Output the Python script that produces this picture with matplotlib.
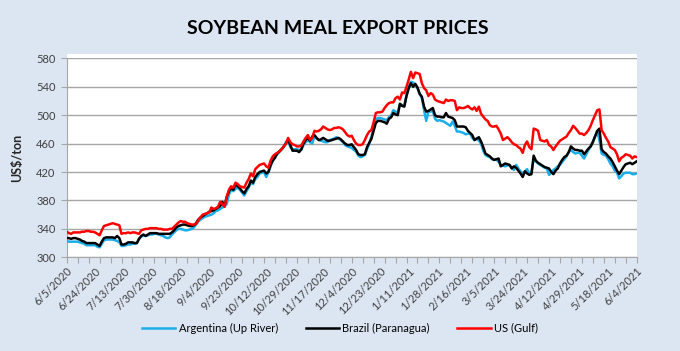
import matplotlib
matplotlib.use("Agg")
import matplotlib.pyplot as plt
from matplotlib.patches import Rectangle
import pandas as pd

plt.rcParams['font.family'] = ['Lato', 'DejaVu Sans']

# daily (weekday) export prices, US$/ton, 6/5/2020 .. 6/4/2021
start_date = "2020-06-05"

argentina = [
    323, 322, 322, 322, 322, 322, 321, 320, 319, 317, 317, 317, 317,
    317, 315, 314, 319, 324, 325, 325, 325, 325, 324, 323, 321, 316,
    316, 317, 318, 318, 319, 319, 320, 326, 329, 331, 330, 331, 332,
    332, 333, 333, 332, 331, 330, 328, 327, 328, 332, 335, 338, 340,
    340, 339, 338, 338, 339, 340, 342, 346, 350, 353, 355, 357, 358,
    359, 360, 362, 365, 366, 368, 370, 372, 375, 388, 395, 393, 396,
    398, 395, 391, 387, 393, 398, 405, 403, 410, 413, 418, 419, 420,
    413, 420, 428, 436, 442, 445, 448, 452, 455, 462, 465, 455, 452,
    452, 452, 451, 451, 458, 462, 465, 462, 460, 470, 467, 465, 464,
    463, 462, 462, 465, 466, 467, 469, 467, 465, 462, 458, 456, 455,
    454, 451, 449, 443, 441, 442, 444, 452, 460, 470, 482, 494, 496,
    496, 495, 494, 493, 497, 500, 507, 505, 503, 516, 514, 514, 528,
    538, 547, 546, 542, 538, 530, 524, 507, 492, 505, 505, 506, 495,
    492, 493, 492, 491, 489, 487, 485, 491, 485, 477, 477, 476, 475,
    473, 474, 474, 468, 465, 467, 464, 460, 450, 444, 442, 441, 438,
    437, 438, 434, 430, 429, 428, 429, 430, 426, 423, 430, 425, 421,
    418, 421, 424, 418, 420, 438, 435, 432, 430, 428, 426, 425, 416,
    419, 423, 425, 428, 430, 434, 438, 442, 448, 451, 448, 446, 447,
    447, 443, 439, 445, 451, 456, 463, 470, 477, 465, 446, 444, 443,
    438, 432, 428, 422, 419, 411, 414, 418, 419, 419, 419, 417, 417,
    418,
]

brazil = [
    327, 327, 326, 327, 327, 326, 325, 323, 322, 320, 320, 320, 320,
    320, 318, 316, 322, 327, 328, 328, 328, 328, 327, 330, 327, 318,
    318, 319, 321, 321, 321, 320, 320, 326, 330, 332, 330, 332, 334,
    334, 334, 334, 333, 333, 333, 333, 333, 333, 335, 338, 342, 344,
    345, 346, 346, 345, 344, 344, 345, 348, 353, 356, 358, 360, 362,
    364, 365, 366, 368, 370, 372, 378, 372, 385, 393, 397, 395, 402,
    400, 397, 393, 390, 396, 400, 408, 405, 413, 417, 420, 421, 422,
    418, 420, 430, 436, 440, 446, 449, 452, 456, 460, 466, 458, 450,
    450, 450, 448, 452, 460, 465, 468, 464, 470, 472, 468, 465, 466,
    468, 466, 464, 464, 465, 466, 467, 468, 466, 463, 460, 458, 458,
    459, 455, 451, 445, 444, 444, 445, 455, 461, 467, 478, 489, 492,
    492, 491, 490, 488, 495, 497, 503, 501, 500, 516, 513, 512, 527,
    538, 545, 540, 544, 539, 530, 526, 512, 505, 506, 508, 510, 500,
    498, 498, 497, 497, 503, 498, 497, 496, 493, 484, 484, 484, 484,
    483, 478, 475, 472, 465, 467, 469, 463, 455, 446, 444, 442, 439,
    437, 438, 439, 428, 430, 432, 431, 430, 425, 428, 426, 422, 418,
    413, 421, 418, 416, 417, 443, 436, 433, 431, 429, 427, 426, 425,
    420, 417, 422, 425, 432, 437, 441, 443, 448, 456, 453, 451, 451,
    450, 450, 445, 449, 453, 456, 462, 470, 478, 481, 452, 448, 446,
    442, 439, 434, 428, 422, 417, 422, 427, 431, 432, 433, 431, 433,
    435,
]

us_gulf = [
    336, 334, 333, 335, 335, 335, 335, 336, 336, 337, 337, 336, 336,
    335, 333, 331, 338, 344, 345, 346, 347, 348, 347, 346, 345, 333,
    334, 334, 335, 334, 335, 335, 334, 333, 338, 339, 340, 340, 341,
    341, 341, 341, 340, 340, 339, 339, 339, 340, 340, 343, 346, 349,
    351, 350, 350, 348, 347, 346, 346, 347, 352, 356, 360, 361, 362,
    363, 370, 368, 369, 371, 378, 375, 371, 385, 395, 400, 398, 405,
    403, 400, 399, 398, 405, 410, 418, 414, 424, 427, 430, 431, 432,
    428, 426, 436, 442, 445, 447, 449, 452, 456, 460, 468, 462, 459,
    458, 456, 456, 457, 463, 468, 472, 465, 468, 478, 477, 478, 480,
    484, 482, 480, 479, 480, 482, 482, 483, 482, 480, 476, 472, 470,
    471, 465, 460, 458, 458, 459, 465, 472, 477, 479, 490, 503, 504,
    504, 505, 510, 514, 517, 518, 518, 524, 526, 522, 532, 531, 540,
    550, 561, 552, 560, 559, 558, 545, 538, 535, 527, 531, 529, 522,
    520, 519, 518, 517, 522, 520, 521, 521, 520, 507, 511, 510, 510,
    511, 513, 510, 508, 511, 506, 512, 502, 498, 494, 492, 486, 484,
    484, 485, 480, 474, 465, 467, 469, 466, 462, 459, 458, 455, 453,
    447, 458, 463, 455, 452, 481, 480, 478, 465, 464, 463, 465, 458,
    456, 451, 456, 460, 464, 466, 468, 470, 475, 479, 485, 482, 478,
    474, 474, 472, 475, 479, 485, 493, 500, 507, 508, 479, 474, 468,
    463, 455, 453, 451, 445, 435, 440, 442, 445, 444, 443, 439, 442,
    441,
]

dates = pd.bdate_range(start_date, periods=len(brazil))
date_labels = [f"{d.month}/{d.day}/{d.year}" for d in dates]
x = list(range(len(dates)))

bg = "#DCE6F2"
fig = plt.figure(figsize=(6.8, 3.51), dpi=100, facecolor=bg)
# white plot area (slightly taller than the value range, like Excel)
fig.patches.append(Rectangle((66.7 / 680, 1 - 257.3 / 351), 570 / 680, 203.5 / 351,
                             transform=fig.transFigure, facecolor="white",
                             edgecolor="none", zorder=-5))
ax = fig.add_axes([66.7 / 680, 1 - 257.3 / 351, 570 / 680, 199 / 351])
ax.set_facecolor("none")
ax.set_zorder(2)

ax.plot(x, argentina, color="#1AAEEA", lw=1.8, label="Argentina (Up River)", zorder=3)
ax.plot(x, brazil, color="black", lw=1.8, label="Brazil (Paranagua)", zorder=4)
ax.plot(x, us_gulf, color="#FF0000", lw=1.8, label="US (Gulf)", zorder=5)

ax.set_xlim(0, len(x) - 1)
ax.set_ylim(300, 580)
ax.set_yticks(range(300, 581, 40))
ax.grid(axis="y", color="#A6A6A6", lw=1)
ax.set_axisbelow(True)

ax.xaxis.remove_overlapping_locs = False
ax.set_xticks(range(0, len(x), 5))
ax.set_xticklabels([])
ax.set_xticks(range(0, len(x), 13), minor=True)
ax.set_xticklabels(date_labels[::13], minor=True, rotation=45, ha="right",
                   rotation_mode="anchor", fontsize=8, color="#404040")
ax.tick_params(axis="x", which="major", length=4, color="#A6A6A6", direction="out")
ax.tick_params(axis="x", which="minor", length=0, pad=6)
ax.tick_params(axis="y", length=4, color="#A6A6A6", labelsize=8,
               labelcolor="#404040", pad=4)

for s in ["top", "right"]:
    ax.spines[s].set_visible(False)
for s in ["left", "bottom"]:
    ax.spines[s].set_color("#A6A6A6")

ax.set_ylabel("US$/ton", fontsize=9, fontweight="bold", color="#262626", labelpad=9)
fig.text(0.497, 0.92, "SOYBEAN MEAL EXPORT PRICES", ha="center", va="center",
         fontsize=14, fontweight="bold", color="black")

fig.legend(loc="center", bbox_to_anchor=(0.5, 0.065), ncol=3, frameon=False,
           fontsize=8, handlelength=3, columnspacing=2.5, handletextpad=0.3)

fig.savefig("out.png", dpi=100, facecolor=bg)
